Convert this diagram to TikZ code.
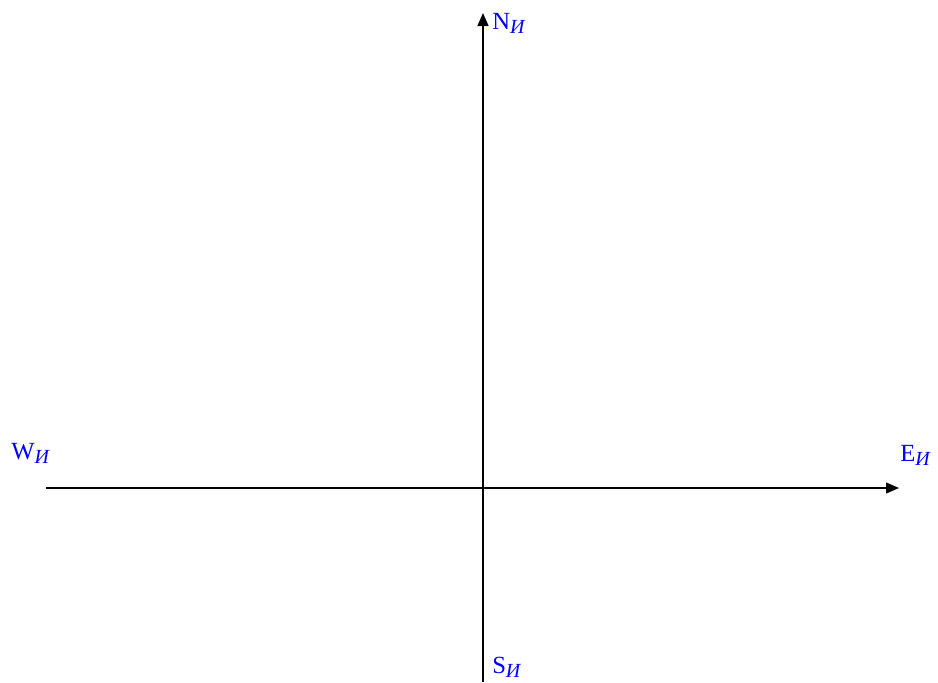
\documentclass[tikz,border=0pt]{standalone}
\usepackage{fontspec}
\setmainfont{Liberation Serif}
\usepackage{tikz}
\usetikzlibrary{arrows.meta}
\definecolor{axislabel}{RGB}{0,0,255}
\newcommand{\dirsub}[1]{\raisebox{-3pt}{\fontsize{15}{17}\selectfont\itshape #1}}

\begin{document}
\begin{tikzpicture}[
  x=0.75pt, y=-0.75pt,
  every node/.style={font=\fontsize{18.5}{22}\selectfont},
  axis/.style={line width=1.1pt, black,
               -{Triangle[length=9.75pt, width=8.25pt]}},
  dirlabel/.style={text=axislabel, anchor=base west, inner sep=0pt},
]
\useasboundingbox (0,0) rectangle (938,682);

%% ── Axis ends ──────────────────────────────────────────────────────────
\coordinate (west)  at (46,  488);
\coordinate (east)  at (899, 488);
\coordinate (south) at (483, 682);
\coordinate (north) at (483, 13);

%% ── Axes ───────────────────────────────────────────────────────────────
\draw[axis] (west)  -- (east);
\draw[axis] (south) -- (north);

%% ── Direction labels ───────────────────────────────────────────────────
\node[dirlabel] (lblN) at (492, 29)  {N\dirsub{И}};
\node[dirlabel] (lblW) at (11,  459) {W\dirsub{И}};
\node[dirlabel] (lblE) at (900, 461) {E\dirsub{И}};
\node[dirlabel] (lblS) at (492, 673) {S\dirsub{И}};

\end{tikzpicture}
\end{document}
